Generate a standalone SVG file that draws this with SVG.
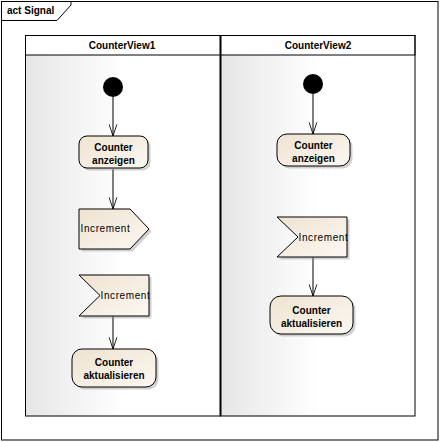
<svg xmlns="http://www.w3.org/2000/svg" width="440" height="442" viewBox="0 0 440 442">
<style>
.lbl{font-family:"Liberation Sans",Arial,sans-serif;font-size:10px;fill:#000}
.b{font-weight:bold}
.sig{letter-spacing:0.6px}
.act{fill:url(#actg);stroke:#000;stroke-width:1}
.shd{fill:#9a9a9a;opacity:0.45}
.edge{stroke:#000;stroke-width:1;fill:none}
.ln{stroke:#000;fill:none}
</style>
<defs>
<linearGradient id="lane" x1="0" y1="0" x2="1" y2="0">
<stop offset="0" stop-color="#e6e6e6"/>
<stop offset="0.5" stop-color="#ffffff"/>
<stop offset="1" stop-color="#ffffff"/>
</linearGradient>
<linearGradient id="hdr" x1="0" y1="0" x2="1" y2="0">
<stop offset="0" stop-color="#eeeeee"/>
<stop offset="1" stop-color="#f8f8f8"/>
</linearGradient>
<linearGradient id="actg" x1="0" y1="0" x2="1" y2="1">
<stop offset="0" stop-color="#efe3d1"/>
<stop offset="1" stop-color="#fcf8f2"/>
</linearGradient>
<marker id="arr" markerWidth="12" markerHeight="12" viewBox="0 0 14 10" refX="13.5" refY="5" orient="auto" markerUnits="userSpaceOnUse">
<path d="M0,0.5 L13.5,5 L0,9.5" fill="none" stroke="#000" stroke-width="1"/>
</marker>
</defs>
<rect width="440" height="442" fill="#fff"/>
<g id="frame">
<rect x="1.5" y="1.5" width="436.5" height="438.5" class="ln"/>
<path d="M1.5,20.5 H57 L71,5 V1.5" class="ln"/>
<text x="7" y="14" class="lbl b">act Signal</text>
</g>
<g id="lane1">
<rect x="25.5" y="55" width="195" height="361" fill="url(#lane)"/>
<rect x="25.5" y="35.5" width="195" height="19.5" fill="url(#hdr)" class="ln"/>
<rect x="25.5" y="35.5" width="195" height="380.5" class="ln"/>
<text x="122" y="48.5" text-anchor="middle" class="lbl b">CounterView1</text>
</g>
<g id="lane2">
<rect x="220.5" y="55" width="194.5" height="361" fill="url(#lane)"/>
<rect x="220.5" y="35.5" width="194.5" height="19.5" fill="url(#hdr)" class="ln"/>
<rect x="220.5" y="35.5" width="194.5" height="380.5" class="ln"/>
<line x1="220.5" y1="35.5" x2="220.5" y2="416" stroke="#000" stroke-width="2"/>
<text x="318" y="48.5" text-anchor="middle" class="lbl b">CounterView2</text>
</g>
<g id="connectors">
<line x1="113" y1="97" x2="113" y2="136" class="edge" marker-end="url(#arr)"/>
<line x1="113" y1="169" x2="113" y2="209" class="edge" marker-end="url(#arr)"/>
<line x1="113" y1="316" x2="113" y2="349" class="edge" marker-end="url(#arr)"/>
<line x1="313" y1="94" x2="313" y2="134" class="edge" marker-end="url(#arr)"/>
<line x1="313" y1="257" x2="313" y2="296" class="edge" marker-end="url(#arr)"/>
</g>
<g id="init1"><circle cx="113" cy="87" r="10" fill="#000"/></g>
<g id="init2"><circle cx="313" cy="84" r="10" fill="#000"/></g>
<g id="anzeigen1">
<rect x="81.5" y="138.5" width="69" height="32" rx="8" class="shd"/>
<rect x="79" y="136" width="69" height="32" rx="8" class="act"/>
<text x="113.5" y="151" text-anchor="middle" class="lbl b">Counter</text>
<text x="113.5" y="164" text-anchor="middle" class="lbl b">anzeigen</text>
</g>
<g id="send1">
<polygon points="81.5,211.5 132.5,211.5 151.5,231.5 132.5,251.5 81.5,251.5" class="shd"/>
<polygon points="79,209 130,209 149,229 130,249 79,249" class="act"/>
<text x="80.5" y="232" class="lbl sig">Increment</text>
</g>
<g id="accept1">
<polygon points="81.5,277.5 151.5,277.5 151.5,318.5 81.5,318.5 102.5,298" class="shd"/>
<polygon points="79,275 149,275 149,316 79,316 100,295.5" class="act"/>
<text x="100.5" y="299" class="lbl sig">Increment</text>
</g>
<g id="aktualisieren1">
<rect x="74.5" y="351.5" width="84" height="38" rx="10" class="shd"/>
<rect x="72" y="349" width="84" height="38" rx="10" class="act"/>
<text x="114" y="366" text-anchor="middle" class="lbl b">Counter</text>
<text x="114" y="379" text-anchor="middle" class="lbl b">aktualisieren</text>
</g>
<g id="anzeigen2">
<rect x="279.5" y="136.5" width="73" height="32" rx="10" class="shd"/>
<rect x="277" y="134" width="73" height="32" rx="10" class="act"/>
<text x="313.5" y="149" text-anchor="middle" class="lbl b">Counter</text>
<text x="313.5" y="162" text-anchor="middle" class="lbl b">anzeigen</text>
</g>
<g id="accept2">
<polygon points="279.5,219.5 349.5,219.5 349.5,259.5 279.5,259.5 300.5,239.5" class="shd"/>
<polygon points="277,217 347,217 347,257 277,257 298,237" class="act"/>
<text x="298.5" y="240.5" class="lbl sig">Increment</text>
</g>
<g id="aktualisieren2">
<rect x="272.5" y="298.5" width="83" height="38" rx="11" class="shd"/>
<rect x="270" y="296" width="83" height="38" rx="11" class="act"/>
<text x="311.5" y="314" text-anchor="middle" class="lbl b">Counter</text>
<text x="311.5" y="327" text-anchor="middle" class="lbl b">aktualisieren</text>
</g>
</svg>
